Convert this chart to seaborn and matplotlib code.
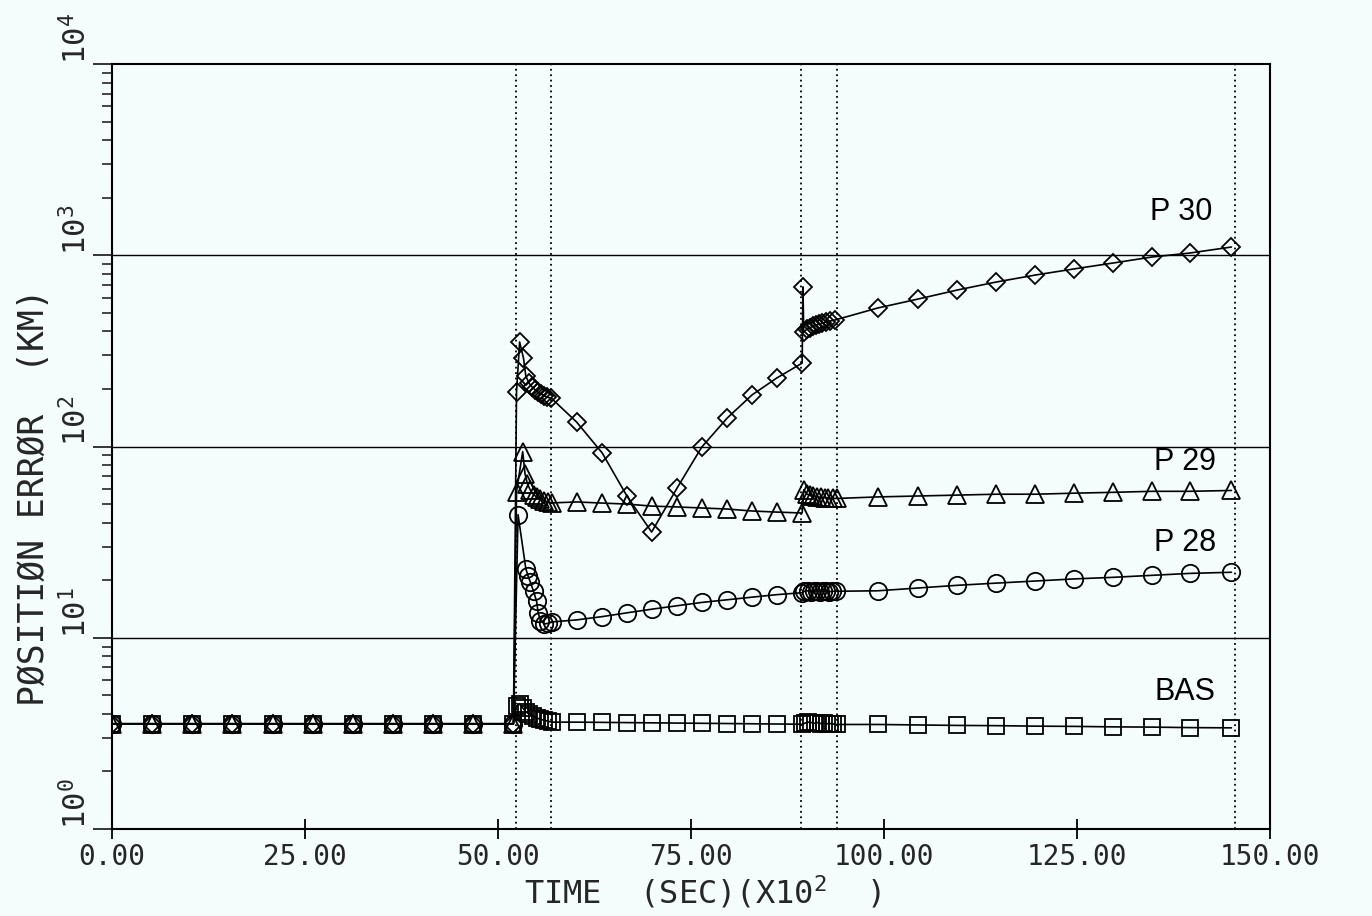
import matplotlib
matplotlib.use("Agg")
import matplotlib.pyplot as plt
import seaborn as sns
import pandas as pd
from matplotlib.ticker import FixedLocator, NullFormatter

# ---------------- data ----------------
early_t = [0.0, 5.2, 10.4, 15.6, 20.8, 26.0, 31.2, 36.4, 41.6, 46.8, 52.0]
mid_t = [60.2, 63.5, 66.7, 69.9, 73.2, 76.4, 79.7, 82.9, 86.1, 89.4]
late_t = [99.2, 104.4, 109.5, 114.5, 119.6, 124.6, 129.7, 134.7, 139.6, 145.0]
early_err = [3.55, 3.55, 3.55, 3.55, 3.55, 3.55, 3.55, 3.55, 3.55, 3.55, 3.55]

# BAS (squares)
bas_tr1_t = [52.4, 52.8, 53.2, 53.6, 54.0, 54.5, 55.0, 55.5, 56.0, 56.5, 57.0]
bas_tr1_v = [4.4, 4.5, 4.3, 4.1, 4.0, 3.9, 3.8, 3.75, 3.7, 3.66, 3.62]
bas_mid_v = [3.62, 3.61, 3.60, 3.59, 3.58, 3.57, 3.56, 3.55, 3.54, 3.53]
bas_tr2_t = [89.8, 90.2, 90.6, 91.0, 91.4, 91.8, 92.2, 92.6, 93.0, 93.4, 93.9]
bas_tr2_v = [3.58, 3.62, 3.60, 3.57, 3.60, 3.56, 3.58, 3.55, 3.56, 3.54, 3.52]
bas_late_v = [3.52, 3.50, 3.48, 3.47, 3.45, 3.44, 3.42, 3.41, 3.39, 3.38]

# P 28 (circles)
p28_tr1_t = [52.6, 53.6, 53.9, 54.2, 54.6, 55.0, 55.2, 55.5, 56.0, 56.5, 57.0]
p28_tr1_v = [44.0, 23.0, 21.0, 19.5, 17.5, 15.5, 13.5, 12.3, 11.8, 11.9, 12.1]
p28_mid_v = [12.4, 12.9, 13.5, 14.1, 14.7, 15.3, 15.8, 16.3, 16.8, 17.2]
p28_tr2_t = [89.7, 90.1, 90.5, 90.9, 91.3, 91.7, 92.1, 92.5, 92.9, 93.3, 93.8]
p28_tr2_v = [17.5, 17.6, 17.4, 17.5, 17.6, 17.4, 17.5, 17.6, 17.4, 17.5, 17.5]
p28_late_v = [17.6, 18.2, 18.8, 19.3, 19.8, 20.3, 20.7, 21.2, 21.7, 22.0]

# P 29 (triangles)
p29_tr1_t = [52.4, 53.2, 53.5, 53.8, 54.2, 54.6, 55.0, 55.5, 56.0, 56.5, 57.0]
p29_tr1_v = [58.0, 94.0, 72.0, 64.0, 59.0, 56.0, 54.5, 53.0, 52.0, 51.2, 50.7]
p29_mid_v = [51.3, 50.6, 50.0, 48.8, 48.3, 47.7, 47.1, 46.0, 45.4, 44.9]
p29_tr2_t = [89.6, 90.0, 90.4, 90.8, 91.3, 91.8, 92.3, 92.8, 93.4, 93.9]
p29_tr2_v = [59.3, 56.5, 55.5, 55.0, 54.6, 54.3, 54.0, 53.8, 53.6, 53.5]
p29_late_v = [54.5, 55.1, 55.7, 56.3, 56.3, 57.0, 57.6, 58.3, 58.3, 58.9]

# P 30 (diamonds)
p30_tr1_t = [52.4, 52.8, 53.3, 53.6, 54.0, 54.4, 54.8, 55.2, 55.6, 56.0, 56.4, 56.9]
p30_tr1_v = [193, 352, 290, 234, 215, 205, 198, 192, 188, 184, 181, 179]
p30_mid_v = [134, 92.5, 55.1, 35.7, 60.7, 99.4, 141, 186, 228, 273]
p30_tr2_t = [89.5, 89.6, 90.0, 90.4, 90.8, 91.2, 91.6, 92.0, 92.5, 93.0, 93.6]
p30_tr2_v = [683, 397, 410, 418, 425, 431, 437, 442, 448, 453, 458]
p30_late_v = [530, 590, 658, 724, 788, 848, 911, 979, 1027, 1104]

event_t = [52.3, 56.9, 89.2, 93.9, 145.5]
x_ticks = [0, 25, 50, 75, 100, 125, 150]
x_tick_labels = ["0.00", "25.00", "50.00", "75.00", "100.00", "125.00", "150.00"]
y_ticks = [1, 10, 100, 1000, 10000]
y_tick_labels = [r"$\mathregular{10^{0}}$", r"$\mathregular{10^{1}}$",
                 r"$\mathregular{10^{2}}$", r"$\mathregular{10^{3}}$",
                 r"$\mathregular{10^{4}}$"]
series_names = ["BAS", "P 28", "P 29", "P 30"]
label_pos = [(143.0, 5.2), (143.0, 31.3), (143.0, 83.0), (142.5, 1680.0)]

# ---------------- build the table ----------------
def build(name, tr1_t, tr1_v, mid_v, tr2_t, tr2_v, late_v):
    t = early_t + tr1_t + mid_t + tr2_t + late_t
    v = early_err + tr1_v + mid_v + tr2_v + late_v
    return pd.DataFrame({"series": name, "t": t, "err": v})

df = pd.concat([
    build("BAS", bas_tr1_t, bas_tr1_v, bas_mid_v, bas_tr2_t, bas_tr2_v, bas_late_v),
    build("P 28", p28_tr1_t, p28_tr1_v, p28_mid_v, p28_tr2_t, p28_tr2_v, p28_late_v),
    build("P 29", p29_tr1_t, p29_tr1_v, p29_mid_v, p29_tr2_t, p29_tr2_v, p29_late_v),
    build("P 30", p30_tr1_t, p30_tr1_v, p30_mid_v, p30_tr2_t, p30_tr2_v, p30_late_v),
], ignore_index=True)

markers = {"BAS": ("s", 11), "P 28": ("o", 12.5), "P 29": ("^", 13), "P 30": ("D", 9.5)}

# ---------------- styling ----------------
sns.set_style("ticks")
plt.rcParams["font.family"] = ["DejaVu Sans Mono", "DejaVu Sans"]
plt.rcParams["mathtext.fontset"] = "custom"
plt.rcParams["mathtext.rm"] = "DejaVu Sans Mono"
plt.rcParams["mathtext.it"] = "DejaVu Sans Mono"
plt.rcParams["mathtext.bf"] = "DejaVu Sans Mono"
bg = "#f4fcfc"

fig = plt.figure(figsize=(13.72, 9.16), dpi=100, facecolor=bg)
ax = fig.add_axes([112 / 1372, (916 - 829) / 916, 1158 / 1372, 765 / 916])
ax.set_facecolor(bg)

for name in series_names:
    sub = df[df["series"] == name]
    m, ms = markers[name]
    sns.lineplot(data=sub, x="t", y="err", ax=ax, estimator=None, sort=False,
                 color="black", linewidth=1.2, marker=m, markersize=ms,
                 markerfacecolor="none", markeredgecolor="black",
                 markeredgewidth=1.3, zorder=3, legend=False)

ax.set_yscale("log")
ax.set_xlim(0, 150)
ax.set_ylim(1, 10000)

# horizontal decade lines
for yv in [10, 100, 1000]:
    ax.axhline(yv, color="black", linewidth=1.0, zorder=1)
# dotted event lines
for tv in event_t:
    ax.axvline(tv, color="black", linewidth=1.3, linestyle=(0, (1, 2)), zorder=1)

for s in ax.spines.values():
    s.set_color("black")
    s.set_linewidth(1.5)

ax.set_xticks(x_ticks)
ax.set_xticklabels(x_tick_labels, fontsize=20)
ax.tick_params(axis="x", direction="inout", length=14, width=1.3, pad=3, color="black")

ax.yaxis.set_major_locator(FixedLocator(y_ticks))
ax.set_yticklabels(y_tick_labels, fontsize=22, rotation=90, va="bottom")
minor = [m * 10 ** e for e in range(0, 4) for m in range(2, 10)]
ax.yaxis.set_minor_locator(FixedLocator(minor))
ax.yaxis.set_minor_formatter(NullFormatter())
ax.tick_params(axis="y", which="major", direction="out", length=14, width=1.3, pad=0)
ax.tick_params(axis="y", which="minor", direction="out", length=7, width=1.2)

ax.set_xlabel(r"TIME  (SEC)(X10$^{2}$  )", fontsize=23, va="top")
ax.xaxis.set_label_coords(0.51, -0.058)
ax.set_ylabel("P\u00d8SITI\u00d8N ERR\u00d8R  (KM)", fontsize=25)
ax.yaxis.set_label_coords(-0.053, 0.434)

for name, (lx, ly) in zip(series_names, label_pos):
    ax.text(lx, ly, name, ha="right", va="center", fontsize=22,
            family="Liberation Sans", color="black")

fig.savefig("out.png", dpi=100, facecolor=bg)
